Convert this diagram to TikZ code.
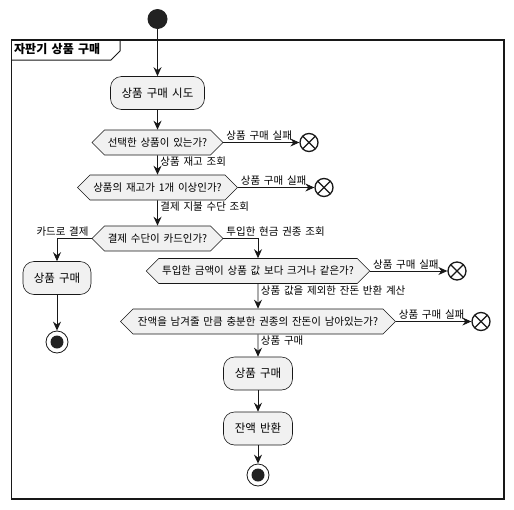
\documentclass[tikz,border=0pt]{standalone}
\usepackage{fontspec}
\setmainfont[WordSpace=1.6]{Noto Sans CJK KR}
\usepackage{xcolor}
\usetikzlibrary{positioning,arrows.meta,shapes.symbols,calc}
\definecolor{actfill}{HTML}{F1F1F1}
\definecolor{umlline}{HTML}{181818}
\definecolor{dotfill}{HTML}{222222}
\tikzset{
  action/.style   = {rectangle, rounded corners=11pt, draw=umlline, line width=0.6pt,
                     fill=actfill, minimum height=33pt, inner xsep=10pt,
                     font=\fontsize{11.5}{13}\selectfont},
  decision/.style = {signal, signal to=east and west, signal pointer angle=90,
                     draw=umlline, line width=0.6pt, fill=actfill, minimum height=25pt,
                     font=\fontsize{10.5}{12}\selectfont},
  arr/.style      = {-{Stealth[length=9pt, width=8pt, inset=3pt]}, line width=0.9pt, umlline},
  lbl/.style      = {font=\fontsize{10.5}{12}\selectfont, inner xsep=2.5pt, inner ysep=1.5pt, text=black},
  startdot/.style = {circle, fill=dotfill, minimum size=20pt, inner sep=0pt},
  stopdot/.style  = {circle, draw=umlline, line width=0.8pt, fill=white, minimum size=22pt,
                     inner sep=0pt,
                     path picture={\fill[dotfill] (path picture bounding box.center) circle (6.5pt);}},
  killdot/.style  = {circle, draw=umlline, line width=1.3pt, fill=white, minimum size=18pt,
                     inner sep=0pt,
                     path picture={\draw[line width=1.3pt]
                       (path picture bounding box.north west) -- (path picture bounding box.south east)
                       (path picture bounding box.south west) -- (path picture bounding box.north east);}},
}

\begin{document}
\begin{tikzpicture}[x=1pt, y=-1pt]
  \useasboundingbox (0,0) rectangle (514,509);

  % frame
  \draw[line width=1.5pt, umlline] (11.5,40) rectangle (504,499);
  \draw[line width=1pt, umlline] (11.5,60) -- (111,60) -- (120,51) -- (120,40);
  \node[anchor=north west, inner sep=0pt, font=\fontsize{12}{14}\selectfont\bfseries] (title)
    at (14,43) {자판기 상품 구매};

  \node[startdot] (start) at (157.5,19) {};
  \node[action, minimum width=94pt] (try) at (157.5,93) {상품 구매 시도};
  \node[decision, minimum width=128pt] (has) at (157.5,142.5) {선택한 상품이 있는가?};
  \node[killdot] (kill1) at (309,142.5) {};
  \node[decision, minimum width=157pt] (stock) at (157.5,187.5) {상품의 재고가 1개 이상인가?};
  \node[killdot] (kill2) at (324,187.5) {};
  \node[decision, minimum width=128pt] (card) at (157.5,238.5) {결제 수단이 카드인가?};

  % card branch
  \node[action, minimum width=68pt] (buycard) at (57,278) {상품 구매};
  \node[stopdot] (stopcard) at (57,342) {};

  % cash branch
  \node[decision, minimum width=220pt] (enough) at (258,271) {투입한 금액이 상품 값 보다 크거나 같은가?};
  \node[killdot] (kill3) at (457,271) {};
  \node[decision, minimum width=275pt] (change) at (258,321.5) {잔액을 남겨줄 만큼 충분한 권종의 잔돈이 남아있는가?};
  \node[killdot] (kill4) at (481,321.5) {};
  \node[action, minimum width=69pt] (buycash) at (258,373.5) {상품 구매};
  \node[action, minimum width=69pt] (refund) at (258,428.5) {잔액 반환};
  \node[stopdot] (stopcash) at (258,475) {};

  \draw[arr] (start) -- (try);
  \draw[arr] (try) -- (has);
  \draw[arr] (has.east) -- node[lbl, pos=0, anchor=south west] {상품 구매 실패} (kill1);
  \draw[arr] (has) -- node[lbl, pos=0, anchor=north west] {상품 재고 조회} (stock);
  \draw[arr] (stock.east) -- node[lbl, pos=0, anchor=south west] {상품 구매 실패} (kill2);
  \draw[arr] (stock) -- node[lbl, pos=0, anchor=north west] {결제 지불 수단 조회} (card);
  \draw[arr] (card.west) -| node[lbl, pos=0, anchor=south east] {카드로 결제} (buycard);
  \draw[arr] (buycard) -- (stopcard);
  \draw[arr] (card.east) -| node[lbl, pos=0, anchor=south west] {투입한 현금 권종 조회} (enough);
  \draw[arr] (enough.east) -- node[lbl, pos=0, anchor=south west] {상품 구매 실패} (kill3);
  \draw[arr] (enough) -- node[lbl, pos=0, anchor=north west] {상품 값을 제외한 잔돈 반환 계산} (change);
  \draw[arr] (change.east) -- node[lbl, pos=0, anchor=south west] {상품 구매 실패} (kill4);
  \draw[arr] (change) -- node[lbl, pos=0, anchor=north west] {상품 구매} (buycash);
  \draw[arr] (buycash) -- (refund);
  \draw[arr] (refund) -- (stopcash);
\end{tikzpicture}
\end{document}
